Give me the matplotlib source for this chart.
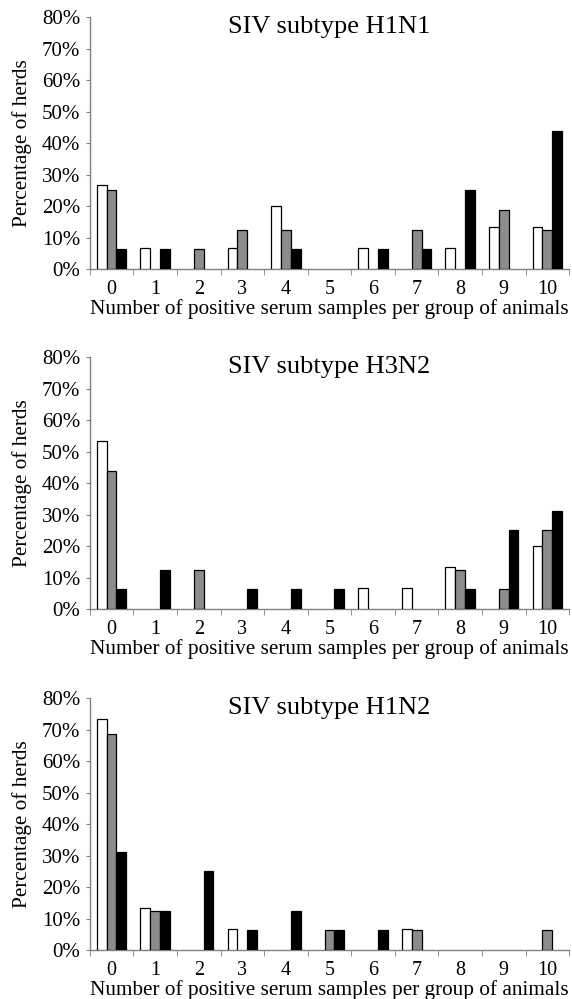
import matplotlib
matplotlib.use("Agg")
import matplotlib.pyplot as plt
import numpy as np

plt.rcParams['font.family'] = ['Liberation Serif', 'DejaVu Serif']

categories = [str(i) for i in range(11)]
yticks = [0, 10, 20, 30, 40, 50, 60, 70, 80]
ytick_labels = [f"{v}%" for v in yticks]

titles = ["SIV subtype H1N1", "SIV subtype H3N2", "SIV subtype H1N2"]

# Percentage of herds per number of positive samples (white, gray, black series)
h1n1_white = [26.7, 6.7, 0, 6.7, 20.0, 0, 6.7, 0, 6.7, 13.3, 13.3]
h1n1_gray = [25.0, 0, 6.25, 12.5, 12.5, 0, 0, 12.5, 0, 18.75, 12.5]
h1n1_black = [6.25, 6.25, 0, 0, 6.25, 0, 6.25, 6.25, 25.0, 0, 43.75]

h3n2_white = [53.3, 0, 0, 0, 0, 0, 6.7, 6.7, 13.3, 0, 20.0]
h3n2_gray = [43.75, 0, 12.5, 0, 0, 0, 0, 0, 12.5, 6.25, 25.0]
h3n2_black = [6.25, 12.5, 0, 6.25, 6.25, 6.25, 0, 0, 6.25, 25.0, 31.25]

h1n2_white = [73.3, 13.3, 0, 6.7, 0, 0, 0, 6.7, 0, 0, 0]
h1n2_gray = [68.75, 12.5, 0, 0, 0, 6.25, 0, 6.25, 0, 0, 6.25]
h1n2_black = [31.25, 12.5, 25.0, 6.25, 12.5, 6.25, 6.25, 0, 0, 0, 0]

panels = [
    (h1n1_white, h1n1_gray, h1n1_black),
    (h3n2_white, h3n2_gray, h3n2_black),
    (h1n2_white, h1n2_gray, h1n2_black),
]

colors = ["white", "#8c8c8c", "black"]
spine_color = "#808080"

fig = plt.figure(figsize=(5.72, 9.99), dpi=100)
bottoms = [0.7307, 0.3904, 0.0490]
left, width, height = 0.157, 0.838, 0.252

x = np.arange(len(categories))
bw = 0.225
for (series, bottom, title) in zip(panels, bottoms, titles):
    ax = fig.add_axes([left, bottom, width, height])
    for k, (vals, c) in enumerate(zip(series, colors)):
        v = np.asarray(vals, dtype=float)
        m = v > 0
        ax.bar(x[m] + (k - 1) * bw, v[m], width=bw, color=c, edgecolor="black",
               linewidth=0.9, zorder=3)
    ax.set_xlim(-0.5, 10.5)
    ax.set_ylim(0, 80)
    ax.set_yticks(yticks)
    ax.set_yticklabels(ytick_labels, fontsize=15)
    ax.set_xticks(x)
    ax.set_xticklabels(categories, fontsize=14.5)
    ax.set_xticks(np.arange(-0.5, 11, 1), minor=True)
    ax.tick_params(axis='x', which='major', length=0, pad=8)
    ax.tick_params(axis='x', which='minor', length=4, direction='out', color=spine_color)
    ax.tick_params(axis='y', length=3, direction='out', color=spine_color, pad=4)
    for s in ['top', 'right']:
        ax.spines[s].set_visible(False)
    for s in ['left', 'bottom']:
        ax.spines[s].set_color(spine_color)
        ax.spines[s].set_linewidth(1.0)
    ax.set_ylabel("Percentage of herds", fontsize=15.3, labelpad=7)
    ax.set_xlabel("Number of positive serum samples per group of animals",
                  fontsize=15.3, labelpad=0)
    ax.text(5.0, 75.0, title, ha='center', va='baseline', fontsize=19)

fig.savefig("out.png", dpi=100)
